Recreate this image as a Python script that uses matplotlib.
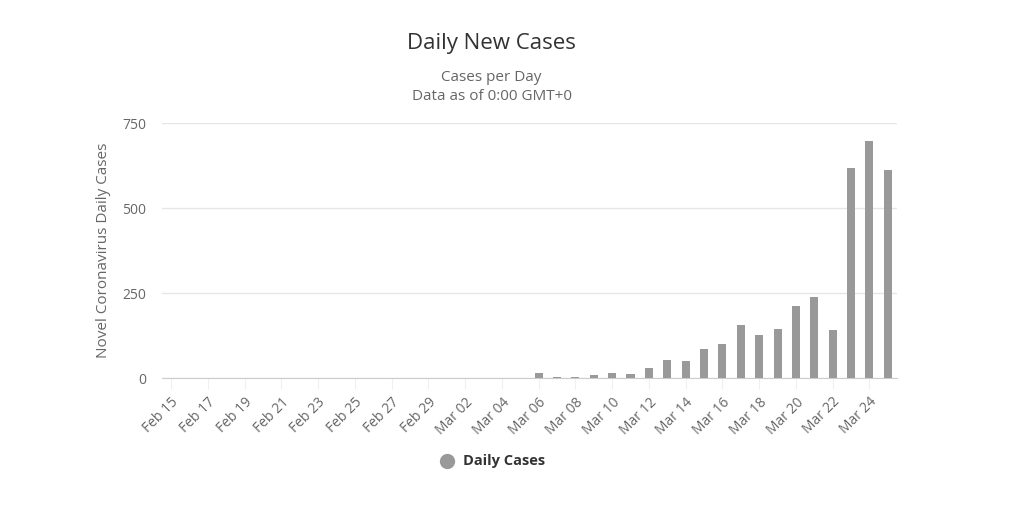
import matplotlib
matplotlib.use("Agg")
import matplotlib.pyplot as plt

# Feb 15 .. Mar 25, one bar per day
dates = (["Feb %02d" % d for d in range(15, 30)] +
         ["Mar %02d" % d for d in range(1, 26)])
daily_cases = [0] * 15 + [0, 0, 0, 0, 0,        # Mar 01-05
                          15, 4, 4, 8, 15,      # Mar 06-10
                          12, 29, 54, 51, 85,   # Mar 11-15
                          100, 156, 127, 145, 212,  # Mar 16-20
                          239, 142, 618, 698, 613]  # Mar 21-25
y_ticks = [0, 250, 500, 750]

plt.rcParams["font.family"] = ["Open Sans", "DejaVu Sans"]

fig = plt.figure(figsize=(10.24, 5.15), dpi=100)
ax = fig.add_axes([0.158, 0.266, 0.718, 0.495])

x = list(range(len(dates)))
ax.bar(x, daily_cases, width=0.44, color="#999999", zorder=3)

ax.set_xlim(-0.5, len(dates) - 0.5)
ax.set_ylim(0, 750)
ax.set_yticks(y_ticks)
ax.set_yticklabels([str(v) for v in y_ticks], color="#666666", fontsize=10)
ax.yaxis.grid(True, color="#e6e6e6", linewidth=1, zorder=0)
ax.tick_params(axis="y", length=0, pad=11)

ax.set_xticks(x[::2])
ax.set_xticklabels(dates[::2], rotation=45, ha="right", rotation_mode="anchor",
                   color="#666666", fontsize=10)
ax.tick_params(axis="x", length=8, color="#f0f0f0", pad=4)

for side in ["top", "right", "left"]:
    ax.spines[side].set_visible(False)
ax.spines["bottom"].set_color("#cccccc")

ax.set_ylabel("Novel Coronavirus Daily Cases", color="#666666", fontsize=11, labelpad=8)

fig.text(0.48, 0.915, "Daily New Cases", ha="center", va="center",
         fontsize=16, color="#333333")
fig.text(0.48, 0.849, "Cases per Day", ha="center", va="center",
         fontsize=11, color="#666666")
fig.text(0.48, 0.812, "Data as of 0:00 GMT+0", ha="center", va="center",
         fontsize=11, color="#666666")

# legend
fig.lines.append(plt.Line2D([0.4365], [0.105], marker="o", markersize=10,
                            color="#999999", linestyle="none",
                            transform=fig.transFigure))
fig.text(0.452, 0.105, "Daily Cases", ha="left", va="center",
         fontsize=10.5, color="#333333", fontweight="bold")

fig.savefig("out.png", dpi=100, facecolor="white")
